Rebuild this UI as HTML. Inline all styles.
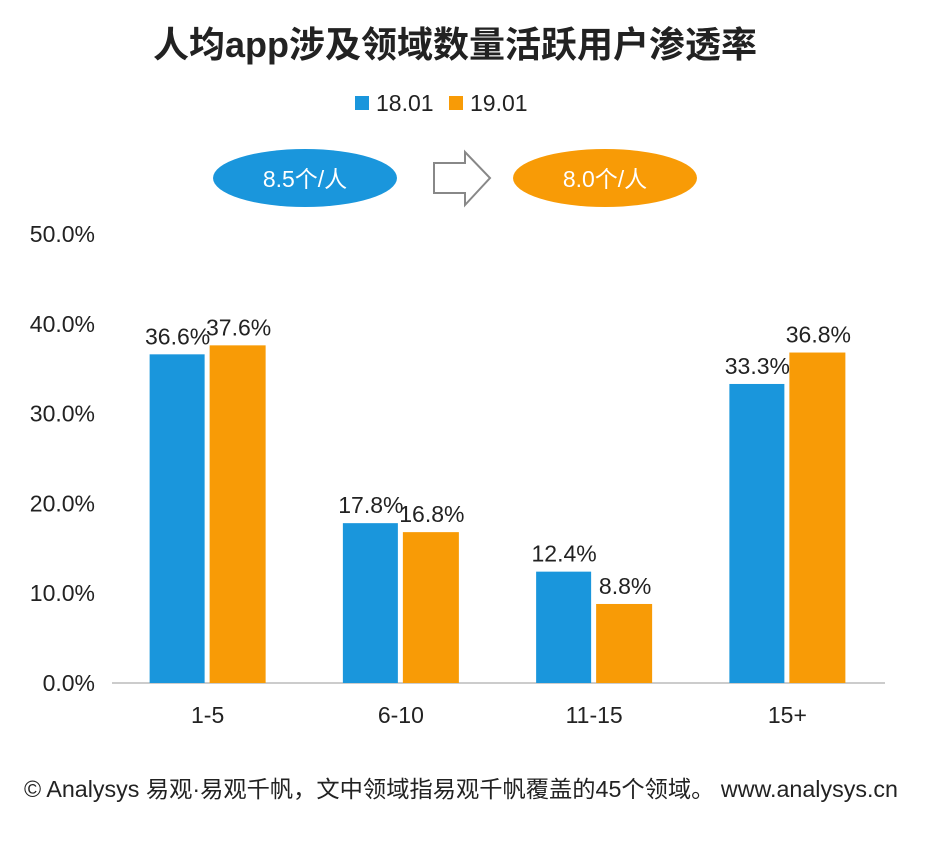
<!DOCTYPE html>
<html><head><meta charset="utf-8"><style>
body{margin:0;background:#fff;width:940px;height:847px;overflow:hidden;font-family:"Liberation Sans","Noto Sans CJK SC",sans-serif;}
svg text{font-family:"Liberation Sans","Noto Sans CJK SC",sans-serif;}
</style></head><body>
<svg width="940" height="847">
<text x="455" y="57" text-anchor="middle" font-size="36" font-weight="bold" fill="#222">人均app涉及领域数量活跃用户渗透率</text>
<g>
<rect x="355" y="96" width="14" height="14" fill="#1a96dc"/>
<text x="376" y="111" font-size="23" fill="#222">18.01</text>
<rect x="449" y="96" width="14" height="14" fill="#f89b06"/>
<text x="470" y="111" font-size="23" fill="#222">19.01</text>
</g>
<ellipse cx="305" cy="178" rx="92" ry="29" fill="#1a96dc"/>
<text x="305" y="187" text-anchor="middle" font-size="23" fill="#fff">8.5个/人</text>
<path d="M434,163 H465 V152 L490,178 L465,205 V193 H434 Z" fill="#fff" stroke="#888" stroke-width="2"/>
<ellipse cx="605" cy="178" rx="92" ry="29" fill="#f89b06"/>
<text x="605" y="187" text-anchor="middle" font-size="23" fill="#fff">8.0个/人</text>
<g id="plot"></g>
<text x="24" y="797" font-size="23" fill="#222" textLength="874" lengthAdjust="spacingAndGlyphs">© Analysys 易观·易观千帆，文中领域指易观千帆覆盖的45个领域。 www.analysys.cn</text>
</svg>
<script>
const categories=["1-5","6-10","11-15","15+"];
const series18=[36.6,17.8,12.4,33.3];
const series19=[37.6,16.8,8.8,36.8];
const yTicks=[0,10,20,30,40,50];
const NS="http://www.w3.org/2000/svg";
const g=document.getElementById('plot');
const y0=683, pxPer=8.98, x0=112, x1=885;
const y=v=>y0-v*pxPer;
const bw=(x1-x0)/categories.length;
const cx=i=>x0+bw*(i+0.5)-1;
function el(t,a){const e=document.createElementNS(NS,t);for(const k in a)e.setAttribute(k,a[k]);g.appendChild(e);return e;}
yTicks.forEach(t=>{const e=el('text',{x:95,y:y(t)+8,'text-anchor':'end','font-size':23,fill:'#222'});e.textContent=t.toFixed(1)+'%';

});
const ax=el('line',{x1:x0,x2:x1,y1:y0,y2:y0,stroke:'#bbb','stroke-width':1.5});


categories.forEach((c,i)=>{
 const c0=cx(i);
 const b1=el('rect',{x:c0-58,y:y(series18[i]),width:55,height:series18[i]*pxPer,fill:'#1a96dc'});
 
 
 const b2=el('rect',{x:c0+2,y:y(series19[i]),width:56,height:series19[i]*pxPer,fill:'#f89b06'});
 
 
 const l1=el('text',{x:c0-30,y:y(series18[i])-10,'text-anchor':'middle','font-size':23,fill:'#222'});l1.textContent=series18[i].toFixed(1)+'%';
 
 
 const l2=el('text',{x:c0+31,y:y(series19[i])-10,'text-anchor':'middle','font-size':23,fill:'#222'});l2.textContent=series19[i].toFixed(1)+'%';
 
 
 const xl=el('text',{x:c0,y:723,'text-anchor':'middle','font-size':23,fill:'#222'});xl.textContent=c;
 
 
});
</script>
</body></html>
